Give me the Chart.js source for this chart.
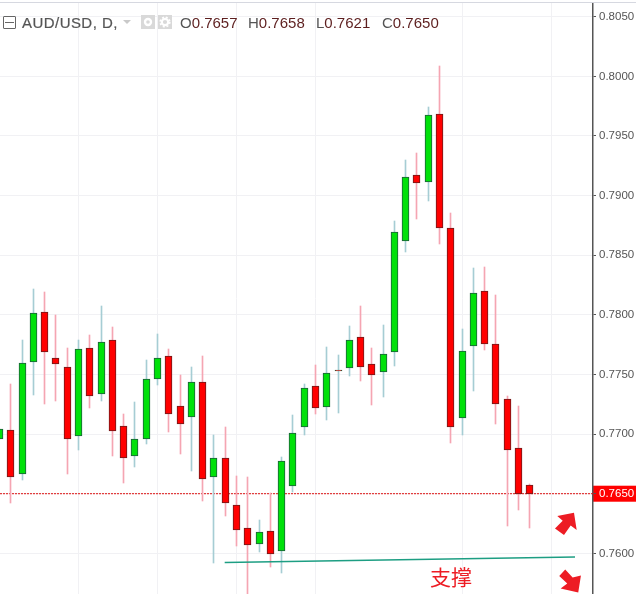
<!DOCTYPE html>
<html>
<head>
<meta charset="utf-8">
<style>
  html, body { margin: 0; padding: 0; background: #fff; overflow: hidden; }
  #wrap { position: relative; width: 636px; height: 594px; }
  canvas { position: absolute; left: 0; top: 0; }
  .frame { position: absolute; left: 0; top: 2px; width: 636px; height: 1px; background: #d6d8e0; }
  .legend { position: absolute; top: 14px; height: 17px; line-height: 17px; font: 15px/17px "Liberation Sans", Arial, sans-serif; color: #555; white-space: nowrap; }
  .legend b { font-weight: normal; color: #5d1f1f; }
  .title { font-size: 15px; -webkit-text-stroke: 0.2px #555; letter-spacing: 0.45px; }
  .collapse { position: absolute; left: 3px; top: 16px; width: 11px; height: 11px; border: 1px solid #666; border-radius: 1px; }
  .collapse i { position: absolute; left: 1px; right: 1px; top: 5px; height: 1px; background: #666; }
  .caret { position: absolute; left: 123px; top: 20px; width: 0; height: 0; border-left: 4px solid transparent; border-right: 4px solid transparent; border-top: 4px solid #c9c9c9; }
  .btn { position: absolute; top: 15px; width: 14px; height: 14px; background: #d9d9d9; }
  .note { position: absolute; left: 430px; top: 562px; font: 21px/28px "Noto Sans CJK SC", sans-serif; color: #ed1c24; }
</style>
</head>
<body>
<div id="wrap">
  <canvas id="chart" width="636" height="594"></canvas>
  <div class="frame"></div>
  <div class="collapse"><i></i></div>
  <div class="legend title" style="left:22px">AUD/USD, D,</div>
  <div class="caret"></div>
  <div class="btn" style="left:141px">
    <svg width="14" height="14"><circle cx="7" cy="7" r="4.2" fill="#fff"/><circle cx="7" cy="7" r="1.8" fill="#d9d9d9"/></svg>
  </div>
  <div class="btn" style="left:158px">
    <svg width="14" height="14"><circle cx="7" cy="7" r="3.2" fill="none" stroke="#fff" stroke-width="2.2"/><circle cx="7" cy="7" r="4.8" fill="none" stroke="#fff" stroke-width="1.6" stroke-dasharray="2 1.8"/></svg>
  </div>
  <div class="legend" style="left:180px">O<b>0.7657</b></div>
  <div class="legend" style="left:248px">H<b>0.7658</b></div>
  <div class="legend" style="left:316px">L<b>0.7621</b></div>
  <div class="legend" style="left:382px">C<b>0.7650</b></div>
  <div class="note">支撑</div>
</div>
<script src="https://cdn.jsdelivr.net/npm/chart.js@4/dist/chart.umd.min.js"></script>
<script>
const opens = [0.76956, 0.77031, 0.76662, 0.77602, 0.78021, 0.77635, 0.77560, 0.76981, 0.77719, 0.77333, 0.77786, 0.77065,
  0.76813, 0.76956, 0.77459, 0.77652, 0.77233, 0.77140, 0.77434, 0.76637, 0.76797, 0.76402, 0.76210, 0.76075,
  0.76184, 0.76017, 0.76562, 0.77057, 0.77400, 0.77224, 0.77535, 0.77551, 0.77811, 0.77585, 0.77518, 0.77685,
  0.78616, 0.79170, 0.79111, 0.79681, 0.78725, 0.77132, 0.77736, 0.78197, 0.77753, 0.77291, 0.76880, 0.7657];
const highs = [0.77040, 0.77420, 0.77789, 0.78216, 0.78191, 0.77998, 0.77722, 0.77789, 0.77831, 0.78074, 0.77898, 0.77168,
  0.77269, 0.77621, 0.77839, 0.77713, 0.77495, 0.77562, 0.77654, 0.76992, 0.77059, 0.76648, 0.76640, 0.76279,
  0.76506, 0.76808, 0.77160, 0.77420, 0.77579, 0.77730, 0.77663, 0.77906, 0.78074, 0.77722, 0.77914, 0.78787,
  0.79298, 0.79357, 0.79743, 0.80086, 0.78854, 0.77881, 0.78392, 0.78401, 0.78166, 0.77319, 0.77235, 0.7658];
const lows = [0.76956, 0.76424, 0.76615, 0.77327, 0.77252, 0.77277, 0.76665, 0.76866, 0.77218, 0.77277, 0.76816, 0.76589,
  0.76724, 0.76916, 0.77411, 0.77017, 0.76833, 0.76690, 0.76439, 0.75919, 0.76313, 0.76061, 0.75659, 0.76011,
  0.75885, 0.75835, 0.76514, 0.76992, 0.77168, 0.77118, 0.77176, 0.77487, 0.77445, 0.77244, 0.77311, 0.77571,
  0.78527, 0.78803, 0.78954, 0.78594, 0.76925, 0.76992, 0.77361, 0.77705, 0.77084, 0.76229, 0.76363, 0.7621];
const closes = [0.77040, 0.76637, 0.77593, 0.78013, 0.77685, 0.77590, 0.76956, 0.77711, 0.77322, 0.77769, 0.77023, 0.76797,
  0.76956, 0.77459, 0.77635, 0.77166, 0.77082, 0.77434, 0.76620, 0.76797, 0.76419, 0.76193, 0.76067, 0.76176,
  0.75992, 0.76771, 0.77006, 0.77384, 0.77216, 0.77509, 0.77530, 0.77786, 0.77560, 0.77493, 0.77669, 0.78692,
  0.79153, 0.79103, 0.79673, 0.78725, 0.77057, 0.77694, 0.78180, 0.77753, 0.77249, 0.76864, 0.76495, 0.7650];

const yTicks = [0.8050, 0.8000, 0.7950, 0.7900, 0.7850, 0.7800, 0.7750, 0.7700, 0.7650, 0.7600];
const xGrid = [7.06, 14.06, 21.06, 28.06, 41.09, 49.0];
const lastPrice = 0.7650;
const supportX = [20, 51.05];
const supportY = [0.75923, 0.75969];
const arrowUpAt = [50.25, 0.76251];
const arrowDownAt = [50.6, 0.75762];

const index = opens.map((_, i) => i);
const isUp = index.map(i => closes[i] >= opens[i] && i !== 30);
const upDoji = index.map(i => i === 30);

// tradingview snaps everything to whole pixels
const snapBars = {
  id: 'snapBars',
  afterDatasetsUpdate(chart) {
    chart.getSortedVisibleDatasetMetas().forEach(meta => {
      if (meta.type !== 'bar') return;
      meta.data.forEach(bar => {
        bar.x = Math.round(bar.x) + (bar.width % 2 ? 0.5 : 0);
        bar.y = Math.round(bar.y);
        bar.base = Math.round(bar.base);
        if (bar.y === bar.base) bar.base = bar.y + 1;
        bar.height = bar.base - bar.y;
      });
    });
  }
};

const priceTag = {
  id: 'priceTag',
  beforeDraw(chart) {
    const y = chart.scales.y.getPixelForValue(lastPrice);
    const ctx = chart.ctx;
    ctx.fillStyle = '#ff0000';
    ctx.fillRect(chart.chartArea.right, y - 8, 636 - chart.chartArea.right, 16);
  }
};

function drawArrow(ctx, at, shape, chart) {
  const cx = chart.scales.x.getPixelForValue(at[0]);
  const cy = chart.scales.y.getPixelForValue(at[1]);
  ctx.beginPath();
  shape.forEach((p, i) => i ? ctx.lineTo(cx + p[0], cy + p[1]) : ctx.moveTo(cx + p[0], cy + p[1]));
  ctx.closePath();
  ctx.fill();
}

const arrows = {
  id: 'arrows',
  afterDraw(chart) {
    const ctx = chart.ctx;
    ctx.save();
    ctx.fillStyle = '#ed1c24';
    drawArrow(ctx, arrowUpAt, [[8, -10.7], [10.7, 6.7], [4.7, 2], [-2, 11.7], [-11, 5], [-3.3, -2.7], [-8.7, -7.3]], chart);
    drawArrow(ctx, arrowDownAt, [[-4.7, -12.3], [2.7, -4.3], [11, -6.3], [8.3, 10.7], [-9.3, 6.7], [-2.7, 1.7], [-10.7, -5.7]], chart);
    ctx.restore();
  }
};

new Chart(document.getElementById('chart'), {
  type: 'bar',
  data: {
    datasets: [
      {
        label: 'support',
        type: 'line',
        data: supportX.map((x, i) => ({ x: x, y: supportY[i] })),
        borderColor: '#1d9e83',
        borderWidth: 1.5,
        pointRadius: 0,
        order: 0
      },
      {
        label: 'AUD/USD body',
        data: index.map(i => ({ x: i, y: [opens[i], closes[i]] })),
        backgroundColor: index.map(i => isUp[i] ? '#00e10a' : '#ff0000'),
        borderColor: index.map(i => (isUp[i] || upDoji[i]) ? '#1c5c3c' : '#6e1a1a'),
        borderWidth: 1,
        borderSkipped: false,
        barThickness: 7,
        grouped: false,
        order: 1
      },
      {
        label: 'AUD/USD wick',
        data: index.map(i => ({ x: i, y: [lows[i], highs[i]] })),
        backgroundColor: index.map(i => (isUp[i] || upDoji[i]) ? '#a6cdd4' : '#f5a5b2'),
        barThickness: 1,
        grouped: false,
        order: 2
      },
      {
        label: 'last price',
        type: 'line',
        data: [{ x: 0.087, y: lastPrice }, { x: 52.644, y: lastPrice }],
        borderColor: '#dd1111',
        borderWidth: 1,
        borderDash: [2, 1],
        pointRadius: 0,
        order: 3
      }
    ]
  },
  options: {
    responsive: false,
    animation: false,
    devicePixelRatio: 1,
    events: [],
    layout: { padding: { top: 3, left: 0, right: 0, bottom: 0 } },
    plugins: { legend: { display: false }, tooltip: { enabled: false } },
    scales: {
      x: {
        type: 'linear',
        min: 0.087,
        max: 52.644,
        offset: false,
        afterBuildTicks: axis => { axis.ticks = xGrid.map(v => ({ value: v })); },
        afterFit: axis => { axis.height = 0; axis.paddingLeft = 0; axis.paddingRight = 0; },
        ticks: { display: false, autoSkip: false },
        grid: { color: '#f1f1f4', lineWidth: 1, drawTicks: false, offset: false },
        border: { display: false }
      },
      y: {
        position: 'right',
        min: 0.75659,
        max: 0.80615,
        afterBuildTicks: axis => { axis.ticks = yTicks.map(v => ({ value: v })); },
        afterFit: axis => { axis.width = 43; axis.paddingTop = 0; axis.paddingBottom = 0; },
        ticks: {
          autoSkip: false,
          padding: 3,
          font: { family: '"Liberation Sans", Arial, sans-serif', size: 11.5 },
          color: ctx => ctx.tick.value === lastPrice ? '#ffffff' : '#555555',
          callback: v => v.toFixed(4)
        },
        grid: { color: '#f1f1f4', lineWidth: 1, tickLength: 3, tickColor: '#555555' },
        border: { display: true, color: '#555555', width: 1.5 }
      }
    }
  },
  plugins: [snapBars, priceTag, arrows]
});
</script>
</body>
</html>
